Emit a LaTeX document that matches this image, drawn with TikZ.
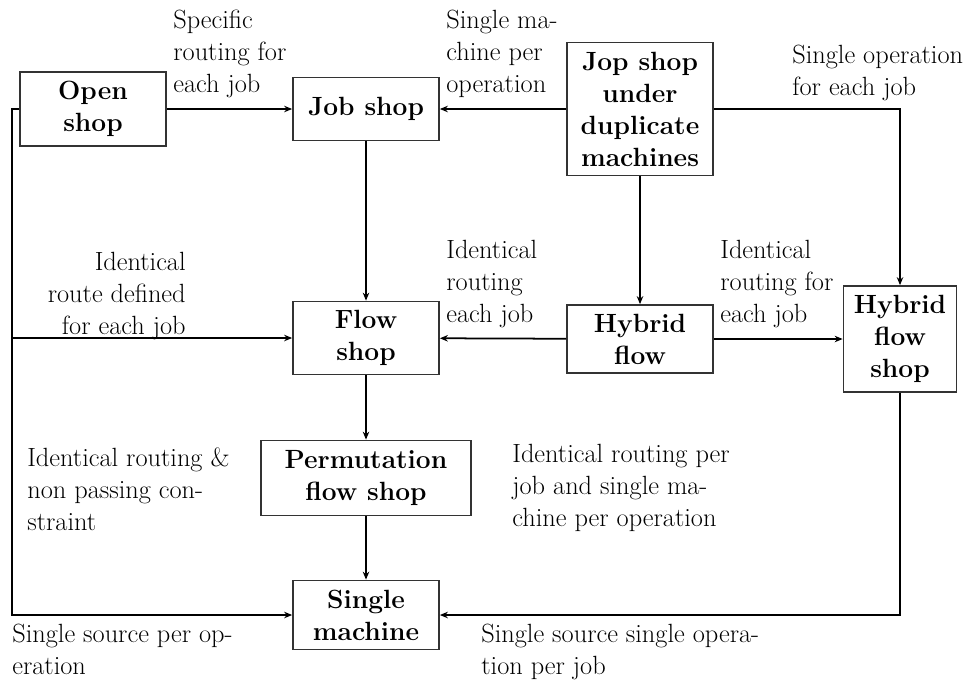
\documentclass[tikz,border=0pt]{standalone}
\usepackage{tikz}
\usetikzlibrary{
	arrows.meta,
	positioning,
	calc
}
\tikzset{
  % arrow
	cstra/.style      ={-{Stealth[length=1.6mm,width=1.3mm]}, line width=1pt}, % right arrow
  % node
	cstbox/.style     ={draw=black!80,fill=white,line width=1pt,align=center,font=\fontsize{15}{18.2}\selectfont\bfseries,inner sep=0pt},
	cstlabel/.style   ={inner sep=0pt,font=\fontsize{15}{18.2}\selectfont,align=left}
}
\begin{document}
\begin{tikzpicture}[x=0.02cm,y=-0.02cm]
			\useasboundingbox (0,0) rectangle (979,684);
			% boxes
			\node[cstbox,minimum width=2.92cm,minimum height=1.48cm] (opensh) at (93,109) {Open\\shop};
			\node[cstbox,minimum width=2.92cm,minimum height=1.26cm] (jobsh) at (366,109) {Job shop};
			\node[cstbox,minimum width=2.92cm,minimum height=2.66cm] (dupsh) at (640,109) {Jop shop\\under\\duplicate\\machines};
			\node[cstbox,minimum width=2.92cm,minimum height=1.46cm] (flowsh) at (366,338) {Flow\\shop};
			\node[cstbox,minimum width=2.92cm,minimum height=1.36cm] (hybfl) at (640,339) {Hybrid\\flow};
			\node[cstbox,minimum width=2.26cm,minimum height=2.12cm] (hybflsh) at (900,339) {Hybrid\\flow\\shop};
			\node[cstbox,minimum width=4.2cm,minimum height=1.5cm] (permsh) at (366,478) {Permutation\\flow shop};
			\node[cstbox,minimum width=2.92cm,minimum height=1.38cm] (single) at (366,615) {Single\\machine};
			% bus on the left
			\coordinate (ltop) at (12,109);
			\coordinate (lmid) at (ltop |- flowsh.west);
			% connectors
			\draw[cstra] (opensh) -- (jobsh);
			\draw[cstra] (dupsh) -- (jobsh);
			\draw[cstra] (dupsh.east) -| (hybflsh.north);
			\draw[cstra] (dupsh) -- (hybfl);
			\draw[cstra] (jobsh) -- (flowsh);
			\draw[cstra] (hybfl) -- (flowsh);
			\draw[cstra] (hybfl) -- (hybflsh);
			\draw[cstra] (flowsh) -- (permsh);
			\draw[cstra] (permsh) -- (single);
			\draw[cstra] (hybflsh.south) |- (single.east);
			\draw[cstra] (opensh.west) -- (ltop) |- (single.west);
			\draw[cstra] (lmid) -- (flowsh.west);
			% labels
			\node[cstlabel,anchor=north west] (lspec) at (173,10) {Specific\\routing for\\each job};
			\node[cstlabel,anchor=north west] (lsinma) at (446,10) {Single ma-\\chine per\\operation};
			\node[cstlabel,anchor=north west] (lsinop) at (792,45) {Single operation\\for each job};
			\node[cstlabel,anchor=north east,align=right] (lroute) at (186,252) {Identical\\route defined\\for each job};
			\node[cstlabel,anchor=north west] (lrout1) at (446,240) {Identical\\routing\\each job};
			\node[cstlabel,anchor=north west] (lrout2) at (720,240) {Identical\\routing for\\each job};
			\node[cstlabel,anchor=north west] (lnon) at (27,447) {Identical routing \&\\non passing con-\\straint};
			\node[cstlabel,anchor=north west] (lper) at (512,444) {Identical routing per\\job and single ma-\\chine per operation};
			\node[cstlabel,anchor=north west] (lsrc) at (12,624) {Single source per op-\\eration};
			\node[cstlabel,anchor=north west] (lsrc2) at (481,624) {Single source single opera-\\tion per job};
		\end{tikzpicture}
\end{document}
